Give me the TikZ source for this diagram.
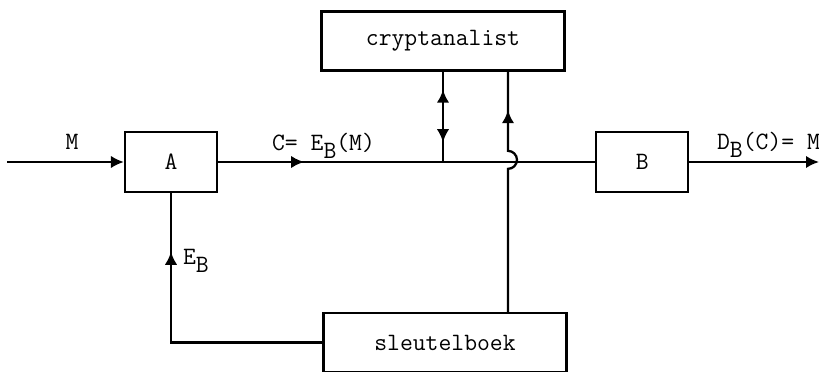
\documentclass[tikz,border=0pt]{standalone}
\usepackage{fontspec}
\usetikzlibrary{positioning,arrows.meta,decorations.markings}

\newcommand{\lowB}{\raisebox{-4.5pt}{B}}

\begin{document}
\begin{tikzpicture}[x=0.02cm, y=0.02cm,
  >={Latex[length=0.26cm,width=0.25cm]},
  font=\ttfamily\fontsize{14.2}{16}\selectfont,
  line width=1.3pt,
  box/.style={draw, rectangle, inner sep=0pt},
  unit/.style={box, minimum width=1.84cm, minimum height=1.2cm},
  wide/.style={box, minimum width=4.86cm, minimum height=1.18cm},
  lbl/.style={inner sep=0pt},
  midarr/.style={postaction={decorate, decoration={markings,
      mark=at position #1 with {\arrow{>}}}}},
  midrev/.style={postaction={decorate, decoration={markings,
      mark=at position #1 with {\arrowreversed{>}}}}}]

\useasboundingbox (0,0) rectangle (819,372);

\node[unit] (A) at (171,210) {A};
\node[unit, right=7.54cm of A] (B) {B};
\node[wide] (crypt) at (443,331) {cryptanalist};
\node[wide] (sleutel) at (445,29.5) {sleutelboek};

\coordinate (in) at (7,210);
\coordinate (out) at (819,210);
\coordinate (tap) at (crypt.south |- A.east);
\coordinate[xshift=1.26cm] (kbot) at (sleutel.north);
\coordinate (ktop) at (kbot |- crypt.south);

% message path
\draw[->] (in) -- (A.west);
\draw[midarr=0.228] (A.east) -- (B.west);
\draw[->] (B.east) -- (out);

% cryptanalist taps the channel, key goes up
\draw[midrev=0.2, midarr=0.78] (crypt.south) -- (tap);
\draw[midarr=0.846] (kbot) -- ++(0,143) arc[start angle=-90, end angle=90, radius=9] -- (ktop);

% key to A
\draw[midarr=0.805] (sleutel.west) -| (A.south);

\node[lbl, anchor=base] (lM) at (72,222) {M};
\node[lbl, anchor=base west] (lC) at (271,221) {C= E\lowB(M)};
\node[lbl, anchor=base west] (lD) at (716,222) {D\lowB(C)= M};
\node[lbl, anchor=base west] (lE) at (182,107) {E\lowB};
\end{tikzpicture}
\end{document}
